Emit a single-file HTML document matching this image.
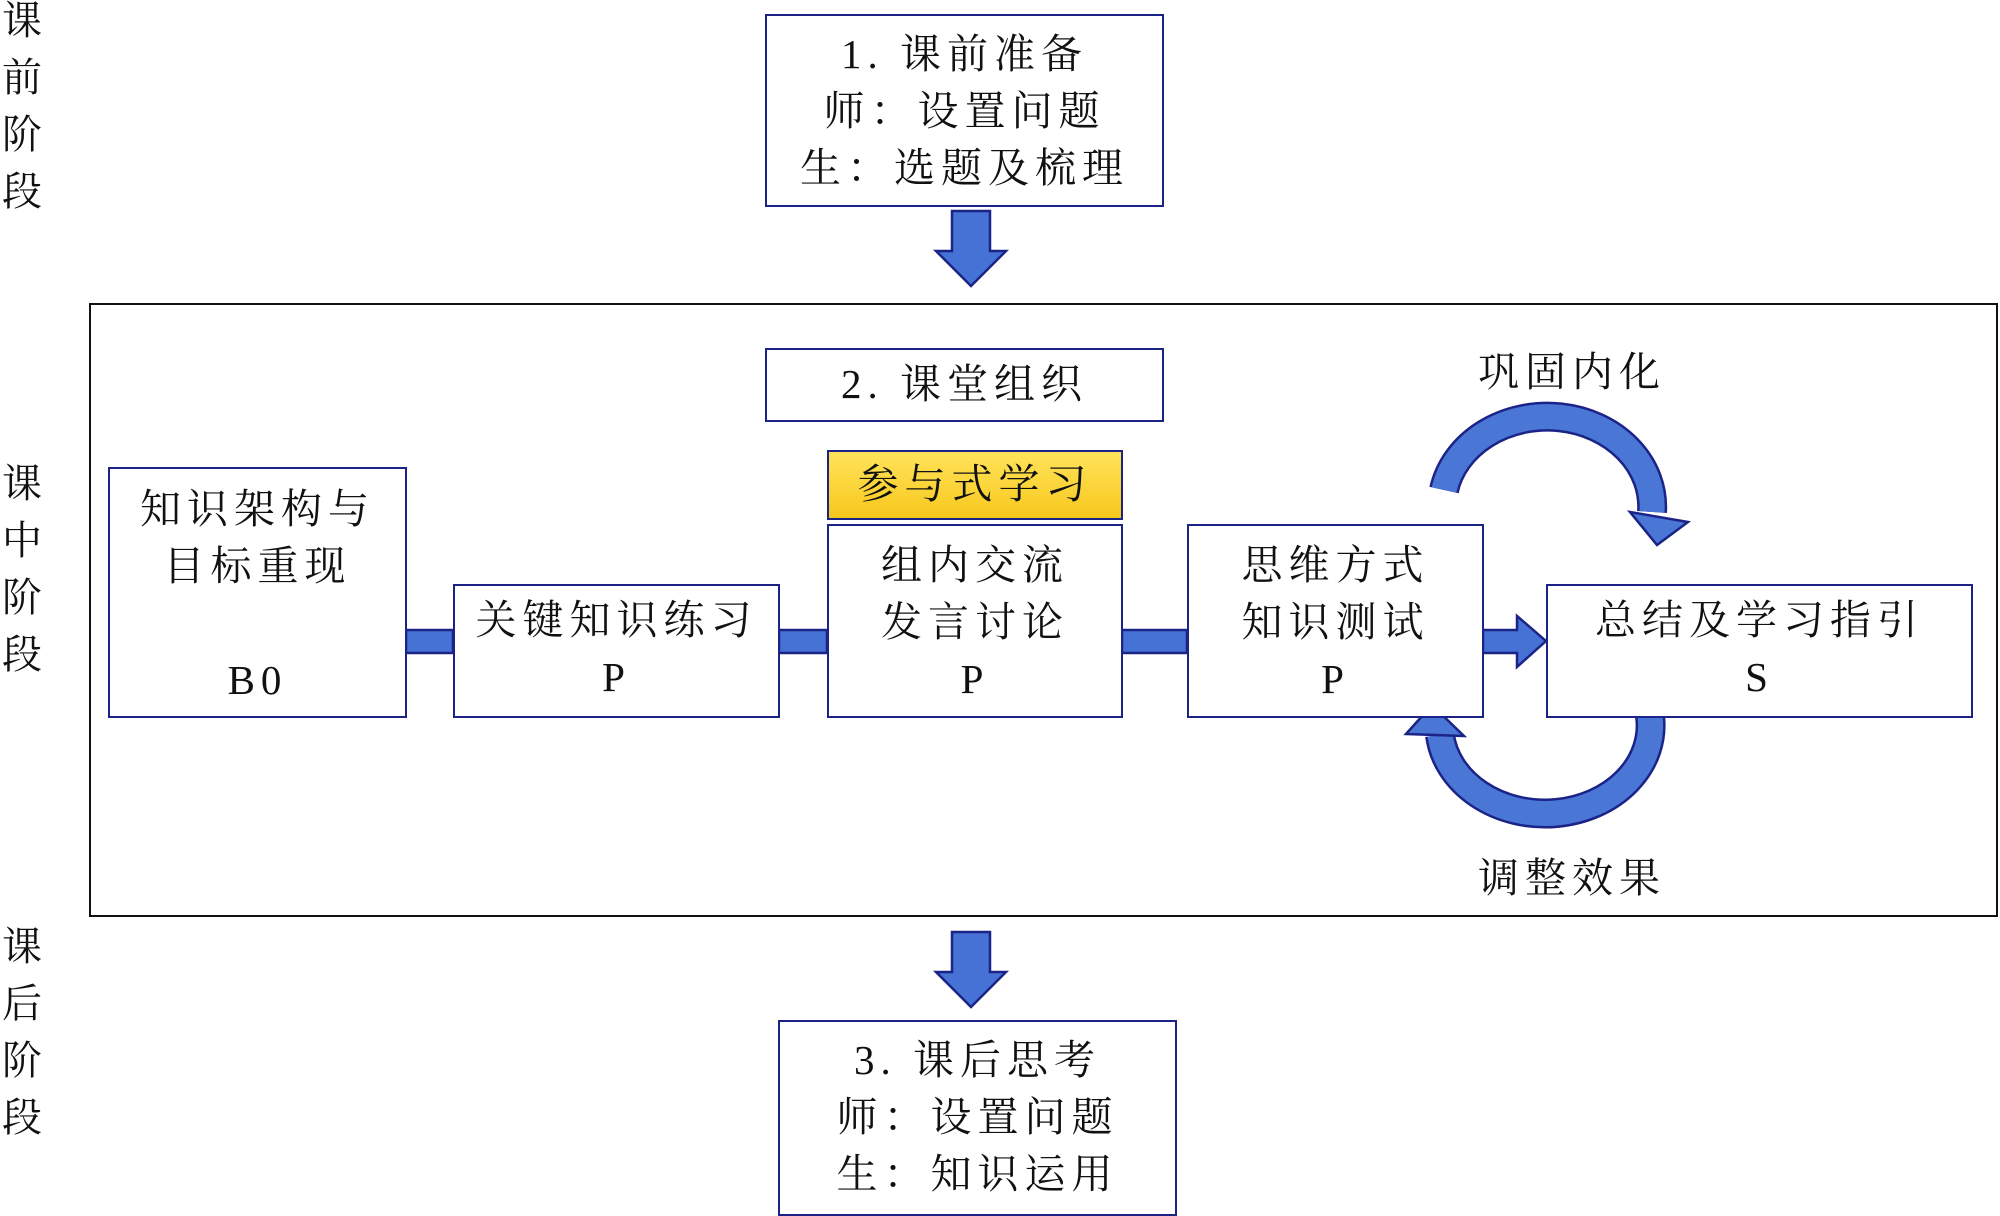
<!DOCTYPE html>
<html><head><meta charset="utf-8"><style>
body{margin:0;width:2000px;height:1214px;background:#fff;position:relative;overflow:hidden;font-family:"Liberation Serif","Noto Serif CJK SC",serif;color:#111}
.b{position:absolute;border:2.5px solid #1b2486;box-sizing:border-box;background:#fff;text-align:center;font-size:41px;line-height:57px;letter-spacing:6px}
.v{position:absolute;left:0;width:44px;font-size:40px;line-height:57px;text-align:center}
.t{position:absolute;font-size:41px;letter-spacing:6px}
</style></head><body>
<div class="v" style="top:-8px">课<br>前<br>阶<br>段</div>
<div class="v" style="top:455px">课<br>中<br>阶<br>段</div>
<div class="v" style="top:918px">课<br>后<br>阶<br>段</div>

<div class="b" style="left:765px;top:14px;width:399px;height:193px;padding-top:10px">1. 课前准备<br>师：设置问题<br>生：选题及梳理</div>
<div class="b" style="left:89px;top:303px;width:1909px;height:614px;background:none;border-width:2.5px;border-color:#111"></div>
<div class="b" style="left:765px;top:348px;width:399px;height:74px;line-height:68px">2. 课堂组织</div>

<svg style="position:absolute;left:0;top:0" width="2000" height="1214">
<g fill="#4572d4" stroke="#1b2486" stroke-width="2.5">
<polygon points="952,211 990,211 990,251 1006,251 971,286 936,251 952,251"/>
<polygon points="952,932 990,932 990,972 1006,972 971,1007 936,972 952,972"/>
<rect x="406" y="630" width="47" height="23"/>
<rect x="779" y="630" width="48" height="23"/>
<rect x="1122" y="630" width="65" height="23"/>
<polygon points="1483,630 1517,630 1517,616 1546,641 1517,667 1517,653 1483,653"/>
</g>
<g fill="none" stroke-linecap="butt">
<path d="M1444,490 A105,90 0 0 1 1652,512" stroke="#1b2486" stroke-width="30"/>
<path d="M1444,490 A105,90 0 0 1 1652,512" stroke="#4a76d6" stroke-width="25"/>
<path d="M1650,716 A102,85 0 0 1 1440,735" stroke="#1b2486" stroke-width="30"/>
<path d="M1650,716 A102,85 0 0 1 1440,735" stroke="#4a76d6" stroke-width="25"/>
</g>
<g fill="#4a76d6" stroke="#1b2486" stroke-width="2.5">
<polygon points="1630,512 1688,522 1657,545"/>
<polygon points="1406,734 1464,736 1432,705"/>
</g>
</svg>

<div class="b" style="left:827px;top:450px;width:296px;height:70px;line-height:64px;background:linear-gradient(#ffe35a,#f7c81c);border-color:#1b2486">参与式学习</div>
<div class="b" style="left:108px;top:467px;width:299px;height:251px;padding-top:12px">知识架构与<br>目标重现<br><div style="margin-top:57px">B0</div></div>
<div class="b" style="left:453px;top:584px;width:327px;height:134px;padding-top:6px">关键知识练习<br>P</div>
<div class="b" style="left:827px;top:524px;width:296px;height:194px;padding-top:11px">组内交流<br>发言讨论<br>P</div>
<div class="b" style="left:1187px;top:524px;width:297px;height:194px;padding-top:11px">思维方式<br>知识测试<br>P</div>
<div class="b" style="left:1546px;top:584px;width:427px;height:134px;padding-top:6px">总结及学习指引<br>S</div>

<div class="t" style="left:1478px;top:339px">巩固内化</div>
<div class="t" style="left:1478px;top:845px">调整效果</div>

<div class="b" style="left:778px;top:1020px;width:399px;height:196px;padding-top:10px">3. 课后思考<br>师：设置问题<br>生：知识运用</div>
</body></html>
